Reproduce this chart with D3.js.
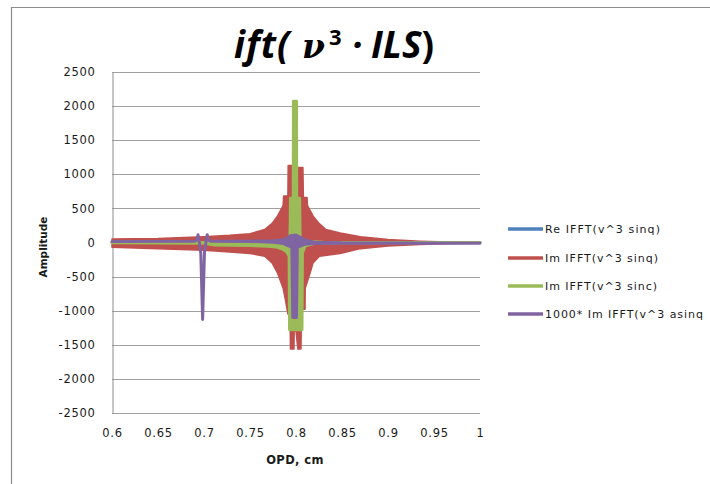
<!DOCTYPE html>
<html><head><meta charset="utf-8">
<script src="https://cdn.jsdelivr.net/npm/d3@7"></script>
<style>body{margin:0;background:#fff} svg{display:block}</style>
</head><body>
<svg id="c" width="710" height="484"></svg>
<script>
// ---------- data ----------
const xTickValues = [0.6, 0.65, 0.7, 0.75, 0.8, 0.85, 0.9, 0.95, 1];
const xTickLabels = ["0.6", "0.65", "0.7", "0.75", "0.8", "0.85", "0.9", "0.95", "1"];
const yTickValues = [-2500, -2000, -1500, -1000, -500, 0, 500, 1000, 1500, 2000, 2500];
const yTickLabels = ["-2500", "-2000", "-1500", "-1000", "-500", "0", "500", "1000", "1500", "2000", "2500"];
const seriesNames = ["Re IFFT(v^3 sinq)", "Im IFFT(v^3 sinq)", "Im IFFT(v^3 sinc)", "1000* Im IFFT(v^3 asinq"];
const seriesColors = ["#4F81BD", "#C0504D", "#9BBB59", "#8064A2"];

// dense oscillating series given by their upper / lower envelopes [OPD, amplitude]
const reSinqUpper = [[0.6, 5], [0.78, 10], [0.79, 20], [0.8, 30], [0.81, 20], [0.85, 5], [1.0, 0]];
const reSinqLower = [[0.6, -5], [0.78, -10], [0.79, -20], [0.8, -30], [0.81, -20], [0.85, -5], [1.0, 0]];

const imSinqUpper = [[0.6, 50], [0.65, 60], [0.7, 85], [0.728, 105], [0.75, 130], [0.766, 190], [0.774, 280],
  [0.780, 390], [0.786, 540], [0.7865, 680], [0.7912, 680], [0.7915, 1130], [0.7965, 1130], [0.797, 300],
  [0.8015, 300], [0.802, 1100], [0.8075, 1100], [0.808, 660], [0.812, 660], [0.8125, 540], [0.8185, 390],
  [0.825, 280], [0.8325, 190], [0.848, 140], [0.87, 85], [0.9, 45], [0.935, 20], [0.967, 6], [1.0, 2]];
const imSinqLower = [[0.6, -70], [0.65, -90], [0.7, -115], [0.728, -140], [0.75, -160], [0.766, -200], [0.774, -300],
  [0.780, -450], [0.786, -670], [0.7885, -840], [0.7912, -1050], [0.7935, -1050], [0.794, -1560], [0.7978, -1560],
  [0.798, -1300], [0.8, -1300], [0.802, -1560], [0.8054, -1560], [0.806, -980], [0.8098, -980], [0.81, -670],
  [0.8152, -450], [0.8185, -300], [0.8255, -200], [0.848, -160], [0.87, -90], [0.9, -50], [0.935, -28],
  [0.967, -14], [1.0, -6]];

const imSincUpper = [[0.6, 5], [0.7, 0], [0.71, -15], [0.75, -20], [0.77, -20], [0.78, -15], [0.786, 0],
  [0.79, 30], [0.7935, 80], [0.794, 650], [0.797, 650], [0.7972, 2070], [0.8005, 2070], [0.8008, 650],
  [0.804, 650], [0.8045, 60], [0.81, 15], [0.83, 5], [1.0, 0]];
const imSincLower = [[0.6, -5], [0.7, -10], [0.71, -35], [0.75, -45], [0.77, -55], [0.78, -70], [0.786, -100],
  [0.79, -140], [0.7925, -200], [0.793, -1280], [0.8065, -1280], [0.807, -150], [0.81, -50], [0.82, -15],
  [0.85, -5], [1.0, 0]];

const imAsinqUpper = [[0.6, 15], [0.69, 20], [0.6925, 40], [0.6935, 115], [0.6945, 40], [0.6965, -150],
  [0.6985, -1130], [0.7005, -150], [0.7025, 40], [0.7035, 115], [0.7045, 40], [0.707, 20], [0.75, 20],
  [0.775, 25], [0.785, 35], [0.79, 60], [0.794, 100], [0.8, 110], [0.806, 70], [0.81, 35], [0.82, 5],
  [0.85, -5], [1.0, -10]];
const imAsinqLower = [[0.6, 15], [0.69, 20], [0.6925, 40], [0.6935, 115], [0.6945, 40], [0.6965, -150],
  [0.6985, -1130], [0.7005, -150], [0.7025, 40], [0.7035, 115], [0.7045, 40], [0.707, 20], [0.75, 15],
  [0.775, 5], [0.785, -10], [0.79, -40], [0.7955, -70], [0.7965, -1100], [0.8005, -1100], [0.8015, -70],
  [0.806, -45], [0.81, -25], [0.82, -15], [0.85, -10], [1.0, -10]];

const envelopes = [
  [reSinqUpper, reSinqLower],
  [imSinqUpper, imSinqLower],
  [imSincUpper, imSincLower],
  [imAsinqUpper, imAsinqLower]
];

// ---------- drawing ----------
const svg = d3.select("#c");
const x = d3.scaleLinear().domain([0.6, 1]).range([112, 480]);
const y = d3.scaleLinear().domain([-2500, 2500]).range([413, 72]);

// outer chart border
svg.append("path").attr("d", "M11.5,484V7.5H710").attr("fill", "none").attr("stroke", "#8c8c8c").attr("stroke-width", 1.2);

// gridlines
svg.append("g").selectAll("line").data(yTickValues).join("line")
  .attr("x1", 112).attr("x2", 480)
  .attr("y1", d => Math.round(y(d)) + 0.5).attr("y2", d => Math.round(y(d)) + 0.5)
  .attr("stroke", "#a0a0a0").attr("stroke-width", 1);

// y axis
const yAxis = svg.append("g").attr("transform", "translate(112.5,0)")
  .call(d3.axisLeft(y).tickValues(yTickValues).tickFormat((d, i) => yTickLabels[i]).tickSize(0).tickPadding(17));
yAxis.select(".domain").attr("stroke", "#8c8c8c");
yAxis.selectAll("text").attr("font-family", "DejaVu Sans").attr("font-size", 11.5).attr("letter-spacing", 0.7).attr("fill", "#1a1a1a");

// x axis labels (at bottom)
const xAxis = svg.append("g").attr("transform", "translate(0,413.5)")
  .call(d3.axisBottom(x).tickValues(xTickValues).tickFormat((d, i) => xTickLabels[i]).tickSize(0).tickPadding(15));
xAxis.select(".domain").remove();
xAxis.selectAll("text").attr("font-family", "DejaVu Sans").attr("font-size", 11.5).attr("letter-spacing", 0.7).attr("fill", "#1a1a1a");

// series
const line = d3.line().x(d => x(d[0])).y(d => y(d[1]));
const gSeries = svg.append("g");
envelopes.forEach((env, i) => {
  const pts = env[0].concat(env[1].slice().reverse());
  gSeries.append("path")
    .attr("d", line(pts) + "Z")
    .attr("fill", seriesColors[i])
    .attr("stroke", seriesColors[i])
    .attr("stroke-width", i === 1 ? 1.5 : 3)
    .attr("stroke-linejoin", "round");
});

// legend
const legY = [229, 258, 286, 314];
const legW = [115, 113, 112, 158];
const leg = svg.append("g");
seriesNames.forEach((n, i) => {
  leg.append("line").attr("x1", 508).attr("x2", 543).attr("y1", legY[i]).attr("y2", legY[i])
    .attr("stroke", seriesColors[i]).attr("stroke-width", 3.5);
  leg.append("text").attr("x", 545).attr("y", legY[i] + 4)
    .attr("font-family", "DejaVu Sans").attr("font-size", 11).attr("fill", "#1a1a1a")
    .attr("textLength", legW[i]).attr("lengthAdjust", "spacing")
    .text(n);
});

// axis titles
svg.append("text").attr("transform", "translate(47,247) rotate(-90)").attr("text-anchor", "middle")
  .attr("font-family", "DejaVu Sans").attr("font-weight", "bold").attr("font-size", 10.5).attr("fill", "#1a1a1a")
  .text("Amplitude");
svg.append("text").attr("x", 295).attr("y", 464).attr("text-anchor", "middle")
  .attr("font-family", "DejaVu Sans").attr("font-weight", "bold").attr("font-size", 11.5).attr("letter-spacing", 0.4).attr("fill", "#1a1a1a")
  .text("OPD, cm");

// title
const t = svg.append("text").attr("y", 58)
  .attr("font-family", "Open Sans").attr("font-weight", "bold").attr("font-style", "italic").attr("font-size", 37).attr("fill", "#000");
t.append("tspan").attr("x", 234).attr("letter-spacing", 1).text("ift(");
t.append("tspan").attr("x", 302).attr("font-family", "DejaVu Serif").attr("font-size", 33).text("ν");
t.append("tspan").attr("x", 329).attr("dy", -13).attr("font-size", 22).attr("font-style", "normal").text("3");
t.append("tspan").attr("x", 352).attr("dy", 13).text("·");
t.append("tspan").attr("x", 371).text("ILS");
t.append("tspan").attr("font-style", "normal").text(")");
</script>
</body></html>
